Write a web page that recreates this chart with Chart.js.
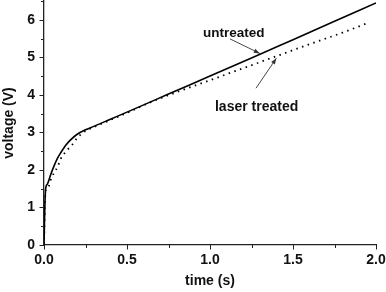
<!DOCTYPE html>
<html><head><meta charset="utf-8">
<script src="https://cdn.jsdelivr.net/npm/chart.js@4"></script>
<style>html,body{margin:0;padding:0;background:#fff}#wrap{width:386px;height:292px}</style>
</head><body><div id="wrap"><canvas id="c"></canvas></div>
<script>
const untreatedTime = [0, 0.005, 0.01, 0.02, 0.04, 0.06, 0.08, 0.1, 0.13, 0.16, 0.2, 0.25, 0.3, 0.4, 0.5, 0.75, 1.0, 1.25, 1.5, 1.75, 2.0];
const untreatedVolt = [0, 1.0, 1.5, 1.62, 1.87, 2.1, 2.3, 2.45, 2.65, 2.8, 2.95, 3.07, 3.16, 3.35, 3.54, 4.02, 4.5, 4.98, 5.47, 5.96, 6.45];
const laserTime = [0, 0.005, 0.01, 0.024, 0.04, 0.06, 0.084, 0.1, 0.13, 0.17, 0.2, 0.25, 0.3, 0.4, 0.5, 0.64, 0.75, 1.0, 1.2, 1.4, 1.6, 1.8, 1.96];
const laserVolt = [0, 1.0, 1.45, 1.52, 1.73, 1.92, 2.1, 2.29, 2.48, 2.67, 2.85, 3.04, 3.14, 3.33, 3.52, 3.8, 3.99, 4.39, 4.71, 5.03, 5.35, 5.66, 5.93];
const xTicks = [0, 0.5, 1.0, 1.5, 2.0];
const yTicks = [0, 1, 2, 3, 4, 5, 6];
const labels = {untreated: 'untreated', laser: 'laser treated', x: 'time (s)', y: 'voltage (V)'};
// annotation anchors in data units: text left/centre and arrow tip time on the curve
const annUntreated = {tx: 0.958, ty: 5.65, tipT: 1.3};
const annLaser = {tx: 1.03, ty: 3.67, tipT: 1.4};

const toXY = (ts, vs) => ts.map((t, i) => ({x: t, y: vs[i]}));
function interp(ts, vs, t){for(let i=1;i<ts.length;i++){if(t<=ts[i]){const f=(t-ts[i-1])/(ts[i]-ts[i-1]);return vs[i-1]+f*(vs[i]-vs[i-1]);}}return vs[vs.length-1];}

const FONT = "'Liberation Sans', Arial, sans-serif";
const tickPlugin = {
  id: 'ticksAnn',
  afterDraw(chart){
    const ctx = chart.ctx, xs = chart.scales.x, ys = chart.scales.y;
    ctx.save();
    ctx.strokeStyle = '#222'; ctx.lineWidth = 1;
    for(let v=0; v<=2.0001; v+=0.25){
      const px = Math.round(xs.getPixelForValue(v))+0.5;
      const major = Math.abs(v*2-Math.round(v*2))<1e-6;
      ctx.beginPath(); ctx.moveTo(px, ys.bottom); ctx.lineTo(px, ys.bottom + (major?4.5:3)); ctx.stroke();
    }
    for(let v=0; v<=6.5001; v+=0.5){
      const py = Math.round(ys.getPixelForValue(v))+0.5;
      const major = Math.abs(v-Math.round(v))<1e-6;
      ctx.beginPath(); ctx.moveTo(xs.left, py); ctx.lineTo(xs.left - (major?4.5:3), py); ctx.stroke();
    }
    ctx.textAlign = 'left'; ctx.textBaseline = 'middle';
    const drawArrow = (x1,y1,x2,y2) => {
      ctx.strokeStyle = '#333'; ctx.fillStyle = '#333'; ctx.lineWidth = 0.9;
      ctx.beginPath(); ctx.moveTo(x1,y1); ctx.lineTo(x2,y2); ctx.stroke();
      const a = Math.atan2(y2-y1, x2-x1), L = 6, W = 2.2;
      ctx.beginPath(); ctx.moveTo(x2,y2);
      ctx.lineTo(x2 - L*Math.cos(a) + W*Math.sin(a), y2 - L*Math.sin(a) - W*Math.cos(a));
      ctx.lineTo(x2 - L*Math.cos(a) - W*Math.sin(a), y2 - L*Math.sin(a) + W*Math.cos(a));
      ctx.closePath(); ctx.fill();
    };
    const ux = xs.getPixelForValue(annUntreated.tx), uy = ys.getPixelForValue(annUntreated.ty);
    ctx.fillStyle = '#111';
    ctx.font = 'bold 13.5px ' + FONT;
    ctx.fillText(labels.untreated, ux, uy);
    drawArrow(ux + 27, uy + 6, xs.getPixelForValue(annUntreated.tipT), ys.getPixelForValue(interp(untreatedTime, untreatedVolt, annUntreated.tipT)) - 1);
    const lx = xs.getPixelForValue(annLaser.tx), ly = ys.getPixelForValue(annLaser.ty);
    ctx.fillStyle = '#111';
    ctx.font = 'bold 14px ' + FONT;
    ctx.fillText(labels.laser, lx, ly);
    drawArrow(lx + 41, ly - 19, xs.getPixelForValue(annLaser.tipT), ys.getPixelForValue(interp(laserTime, laserVolt, annLaser.tipT)) + 2);
    ctx.restore();
  }
};

new Chart(document.getElementById('c'), {
  type: 'line',
  data: {
    datasets: [
      {label: labels.untreated, data: toXY(untreatedTime, untreatedVolt), borderColor: '#000', borderWidth: 1.6, pointRadius: 0, cubicInterpolationMode: 'monotone', fill: false},
      {label: labels.laser, data: toXY(laserTime, laserVolt), borderColor: '#000', borderWidth: 1.8, borderDash: [1.5, 4.5], pointRadius: 0, cubicInterpolationMode: 'monotone', fill: false}
    ]
  },
  options: {
    responsive: true, maintainAspectRatio: false, animation: false,
    layout: {padding: {top: 1, right: 10, left: 0, bottom: 0}},
    plugins: {legend: {display: false}, tooltip: {enabled: false}},
    scales: {
      x: {
        type: 'linear', min: 0, max: 2,
        afterBuildTicks(s){ s.ticks = xTicks.map(v => ({value: v})); },
        afterFit(s){ s.height = 47; s.paddingLeft = 0; s.paddingRight = 0; },
        grid: {display: true, drawOnChartArea: false, drawTicks: false},
        border: {display: true, color: '#222', width: 1.3},
        ticks: {color: '#111', font: {family: FONT, size: 14, weight: 'bold'}, padding: 7, maxRotation: 0, callback: v => Number(v).toFixed(1)},
        title: {display: true, text: labels.x, color: '#111', font: {family: FONT, size: 14, weight: 'bold'}, padding: {top: 0, bottom: 2}}
      },
      y: {
        type: 'linear', min: 0, max: 6.5,
        afterBuildTicks(s){ s.ticks = yTicks.map(v => ({value: v})); },
        afterFit(s){ s.width = 44; s.paddingTop = 0; s.paddingBottom = 0; },
        grid: {display: true, drawOnChartArea: false, drawTicks: false},
        border: {display: true, color: '#222', width: 1.3},
        ticks: {color: '#111', font: {family: FONT, size: 14, weight: 'bold'}, padding: 9, callback: v => String(v)},
        title: {display: true, text: labels.y, color: '#111', font: {family: FONT, size: 14, weight: 'bold'}, padding: {top: 1, bottom: 0}}
      }
    }
  },
  plugins: [tickPlugin]
});
</script></body></html>
